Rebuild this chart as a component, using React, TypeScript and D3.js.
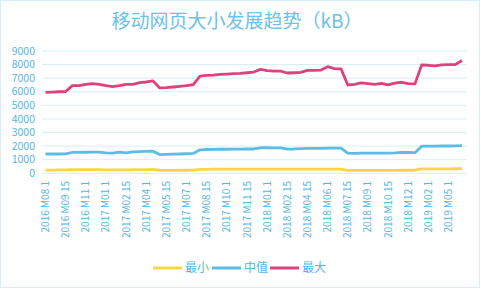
import React from "react";
import * as d3 from "d3";

const categories = [
  "2016 M08 1", "2016 M08 15", "2016 M09 1", "2016 M09 15", "2016 M10 1", "2016 M10 15",
  "2016 M11 1", "2016 M11 15", "2016 M12 15", "2017 M01 1", "2017 M01 15", "2017 M02 1",
  "2017 M02 15", "2017 M03 1", "2017 M03 15", "2017 M04 1", "2017 M04 15", "2017 M05 1",
  "2017 M05 15", "2017 M06 1", "2017 M06 15", "2017 M07 1", "2017 M07 15", "2017 M08 1",
  "2017 M08 15", "2017 M09 1", "2017 M09 15", "2017 M10 1", "2017 M10 15", "2017 M11 1",
  "2017 M11 15", "2017 M12 1", "2017 M12 15", "2018 M01 1", "2018 M01 15", "2018 M02 1",
  "2018 M02 15", "2018 M03 1", "2018 M04 1", "2018 M04 15", "2018 M05 1", "2018 M05 15",
  "2018 M06 1", "2018 M06 15", "2018 M07 1", "2018 M07 15", "2018 M08 1", "2018 M08 15",
  "2018 M09 1", "2018 M09 15", "2018 M10 1", "2018 M10 15", "2018 M11 1", "2018 M11 15",
  "2018 M12 1", "2018 M12 15", "2019 M01 1", "2019 M02 1", "2019 M03 1", "2019 M04 1",
  "2019 M05 1", "2019 M06 1", "2019 M07 1"
];

const minValues = [
  240, 240, 245, 250, 260, 265, 270, 270, 265, 255, 250, 250,
  255, 260, 270, 275, 280, 225, 220, 220, 225, 225, 230, 290,
  295, 300, 300, 300, 300, 305, 305, 305, 310, 310, 305, 300,
  300, 300, 305, 305, 305, 310, 310, 310, 310, 220, 215, 215,
  215, 215, 220, 220, 220, 225, 225, 225, 320, 325, 325, 330,
  330, 335, 340
];

const medianValues = [
  1420, 1420, 1420, 1430, 1540, 1540, 1550, 1560, 1560, 1500, 1490, 1560,
  1500, 1580, 1600, 1620, 1630, 1380, 1400, 1410, 1420, 1440, 1460, 1730,
  1750, 1760, 1770, 1770, 1780, 1780, 1790, 1790, 1880, 1880, 1870, 1870,
  1780, 1790, 1820, 1830, 1830, 1840, 1850, 1860, 1860, 1480, 1470, 1480,
  1480, 1480, 1490, 1490, 1500, 1530, 1540, 1520, 1990, 2000, 2000, 2010,
  2010, 2020, 2030
];

const maxValues = [
  5950, 5980, 6000, 6020, 6450, 6450, 6550, 6600, 6550, 6450, 6380, 6450,
  6550, 6550, 6680, 6720, 6800, 6280, 6300, 6350, 6400, 6450, 6520, 7150,
  7200, 7230, 7280, 7300, 7330, 7350, 7400, 7450, 7650, 7550, 7520, 7520,
  7380, 7400, 7430, 7570, 7580, 7600, 7850, 7700, 7680, 6500, 6550, 6650,
  6600, 6550, 6620, 6500, 6630, 6700, 6600, 6580, 7980, 7950, 7900, 7980,
  8000, 8000, 8300
];

const yTicks = [0, 1000, 2000, 3000, 4000, 5000, 6000, 7000, 8000, 9000];

const series = [
  { name: "最小", values: minValues, color: "#fcd63f" },
  { name: "中值", values: medianValues, color: "#5bbde4" },
  { name: "最大", values: maxValues, color: "#e0407c" }
];

const width = 481;
const height = 289;
const textColor = "#55b6e0";
const gridColor = "#d8edf7";
const font = "'Noto Sans CJK SC', 'Noto Sans', sans-serif";

export default function App() {
  const x = d3.scalePoint<string>().domain(categories).range([45.5, 462]);
  const y = d3.scaleLinear().domain([0, 9000]).range([173.3, 51]);

  const line = d3
    .line<number>()
    .x((d, i) => x(categories[i]) as number)
    .y(d => y(d));

  const legendX = [153, 212, 270];

  return (
    <svg
      width={width}
      height={height}
      style={{ position: "absolute", left: 0, top: 0, background: "#fff" }}
      fontFamily={font}
    >
      <rect x={0.5} y={0.5} width={width - 2} height={height - 2} fill="#fff" stroke={gridColor} />
      <text x={237} y={28} textAnchor="middle" fontSize={19} fill="#6cc2e8">
        移动网页大小发展趋势（kB）
      </text>

      {yTicks.map(t => (
        <g key={t}>
          <line x1={42} x2={467} y1={y(t)} y2={y(t)} stroke={gridColor} strokeWidth={1} />
          <text x={35} y={y(t)} dy="0.35em" textAnchor="end" fontSize={10.5} fill={textColor}>
            {t}
          </text>
        </g>
      ))}

      {categories.map((c, i) =>
        i % 3 === 0 ? (
          <text
            key={c}
            transform={`translate(${x(c)! + 3.5},181) rotate(-90)`}
            textAnchor="end"
            fontSize={10}
            fill={textColor}
          >
            {c}
          </text>
        ) : null
      )}

      {series.map(s => (
        <path
          key={s.name}
          d={line(s.values) || ""}
          fill="none"
          stroke={s.color}
          strokeWidth={2.8}
          strokeLinejoin="round"
        />
      ))}

      {series.map((s, i) => (
        <g key={s.name} transform={`translate(${legendX[i]},268)`}>
          <line x1={0} x2={29} y1={0} y2={0} stroke={s.color} strokeWidth={3} />
          <text x={32} y={0} dy="0.36em" fontSize={12} fill={textColor}>
            {s.name}
          </text>
        </g>
      ))}
    </svg>
  );
}
